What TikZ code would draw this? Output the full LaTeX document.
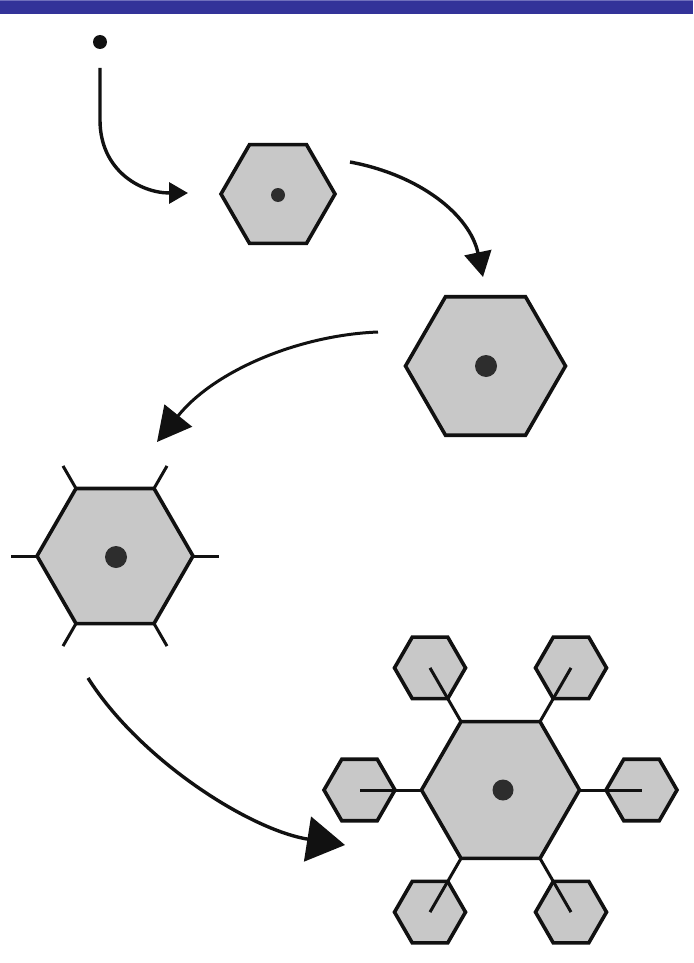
\documentclass[tikz,border=0pt]{standalone}
\usetikzlibrary{shapes.geometric,arrows.meta,calc}
\definecolor{hexfill}{RGB}{200,200,200}
\definecolor{inkline}{RGB}{17,17,17}
\definecolor{dotgray}{RGB}{45,45,45}
\definecolor{barblue}{RGB}{51,51,153}
\definecolor{barlight}{RGB}{112,112,188}
\begin{document}
\begin{tikzpicture}[x=1pt,y=-1pt,
  hexcell/.style={regular polygon, regular polygon sides=6, minimum size=#1,
    inner sep=0pt, outer sep=0pt, draw=inkline, fill=hexfill, line width=3.6pt, line join=miter},
  nucleus/.style={circle, minimum size=#1, inner sep=0pt, outer sep=0pt, fill=dotgray},
  spike/.style={draw=inkline, line width=3pt},
  growth/.style={draw=inkline, line width=3.4pt},
]
\useasboundingbox (0,0) rectangle (693,963);

% title bar
\fill[barblue] (0,0) rectangle (693,14);
\draw[barlight, line width=1.2pt] (0,0.6) -- (693,0.6);

% stage 0: a bare nucleus
\node[nucleus=14, fill=inkline] (seed) at (100,42) {};

% stage 1: small hexagonal plate
\node[hexcell=114] (plate1) at (278,194) {};
\node[nucleus=14] (core1) at (278,195) {};

% stage 2: larger plate
\node[hexcell=160] (plate2) at (485.5,366) {};
\node[nucleus=22] (core2) at (486,366) {};

% stage 3: plate with budding arms
\coordinate (c3) at (115,556);
\foreach \a in {0,60,...,300}
  \draw[spike] ($(c3)+(\a:78)$) -- ($(c3)+(\a:104)$);
\node[hexcell=156] (plate3) at (c3) {};
\node[nucleus=22] (core3) at (116,557) {};

% stage 4: plate with six side plates on arms
\coordinate (c4) at (500.5,790);
\foreach \a in {0,60,...,300}
  \node[hexcell=71] (side\a) at ($(c4)+(\a:141)$) {};
\foreach \a in {0,60,...,300}
  \draw[spike] ($(c4)+(\a:79)$) -- (side\a.center);
\node[hexcell=158] (plate4) at (c4) {};
\node[nucleus=21] (core4) at (503,790) {};

% growth arrows
\coordinate (a1s) at (100,68);
\coordinate (a1e) at (188,193);
\draw[growth, -{Triangle[length=19pt,width=21pt]}]
  (a1s) -- (100,120) .. controls (100,170) and (140,193) .. (a1e);

\coordinate (a2s) at (350,162);
\coordinate (a2e) at (483,277);
\draw[growth, -{Triangle[length=25pt,width=27pt]}]
  (a2s) .. controls (420,175) and (470,215) .. (a2e);

\coordinate (a3s) at (378,332);
\coordinate (a3e) at (157,442);
\draw[growth, line width=3pt, -{Triangle[length=34pt,width=35pt]}]
  (a3s) .. controls (300,335) and (215,370) .. (a3e);

\coordinate (a4s) at (88,678);
\coordinate (a4e) at (345,845);
\draw[growth, -{Triangle[length=38pt,width=45pt]}]
  (a4s) .. controls (140,760) and (250,830) .. (a4e);
\end{tikzpicture}
\end{document}
